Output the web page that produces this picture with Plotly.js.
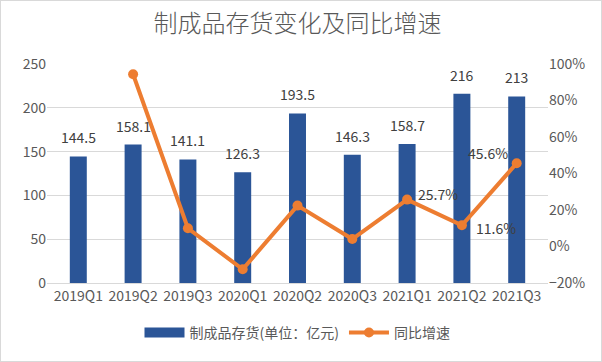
<!DOCTYPE html>
<html><head><meta charset="utf-8">
<script src="https://cdn.plot.ly/plotly-3.0.1.min.js"></script>
<style>
html,body{margin:0;padding:0;background:#fff;}
#wrap{position:relative;width:602px;height:362px;}
#chart{width:602px;height:362px;}
#frame{position:absolute;left:0;top:0;width:600px;height:360px;border:1px solid #d9d9d9;pointer-events:none;}
</style></head>
<body>
<div id="wrap"><div id="chart"></div><div id="frame"></div></div>
<script>
const categories = ['2019Q1','2019Q2','2019Q3','2020Q1','2020Q2','2020Q3','2021Q1','2021Q2','2021Q3'];
const inventory = [144.5, 158.1, 141.1, 126.3, 193.5, 146.3, 158.7, 216, 213];
const inventoryLabels = ['144.5','158.1','141.1','126.3','193.5','146.3','158.7','216','213'];
const growth = [null, 94.4, 10.0, -12.5, 22.4, 4.1, 25.7, 11.6, 45.6];
const growthLabels = ['', '', '', '', '', '', '25.7%', '11.6%', '45.6%'];

const FONT = '"Noto Sans CJK SC", "Liberation Sans", sans-serif';
const BLUE = '#2B5597';
const ORANGE = '#ED7D31';
const GREY = '#595959';
const LABEL = '#404040';

const traces = [
  {
    type: 'bar', x: categories, y: inventory, name: '制成品存货(单位：亿元)',
    marker: {color: BLUE}, showlegend: false, hoverinfo: 'x+y'
  },
  {
    type: 'scatter', mode: 'lines', x: [null], y: [null], name: '制成品存货(单位：亿元)',
    line: {color: BLUE, width: 10}, showlegend: true, hoverinfo: 'skip'
  },
  {
    type: 'scatter', mode: 'lines+markers', x: categories, y: growth, yaxis: 'y2',
    name: '同比增速', line: {color: ORANGE, width: 4}, marker: {color: ORANGE, size: 10},
    cliponaxis: false
  }
];

const annotations = [];
categories.forEach((c, i) => {
  annotations.push({x: c, y: inventory[i], xref: 'x', yref: 'y', text: inventoryLabels[i],
    showarrow: false, yanchor: 'middle', yshift: 19,
    font: {size: 14, color: LABEL, family: FONT}});
});
// placement of the growth labels relative to their points
const growthShift = {6: [9, 6, 'left'], 7: [12, -3, 'left'], 8: [-7, 10, 'right']};
categories.forEach((c, i) => {
  if (!growthLabels[i]) return;
  const s = growthShift[i];
  annotations.push({x: c, y: growth[i], xref: 'x', yref: 'y2', text: growthLabels[i],
    showarrow: false, xanchor: s[2], yanchor: 'middle', xshift: s[0], yshift: s[1],
    font: {size: 14, color: LABEL, family: FONT}});
});

const layout = {
  width: 602, height: 362,
  margin: {l: 47, r: 54, t: 64, b: 79},
  paper_bgcolor: '#fff', plot_bgcolor: '#fff',
  font: {family: FONT, color: GREY, size: 14},
  title: {text: '制成品存货变化及同比增速', x: 0.5, xref: 'paper', y: 0.935, yanchor: 'middle',
          font: {size: 24, color: GREY, family: FONT, weight: 300}},
  bargap: 0.69,
  xaxis: {type: 'category', tickfont: {size: 14, color: GREY}, showgrid: false, zeroline: false,
          showline: true, linecolor: '#d9d9d9', ticks: ''},
  yaxis: {range: [0, 250], dtick: 50, tickfont: {size: 14, color: GREY}, gridcolor: '#d9d9d9',
          zeroline: false, showline: false, ticks: ''},
  yaxis2: {range: [-20, 100], dtick: 20, overlaying: 'y', side: 'right', ticksuffix: '%',
           tickfont: {size: 14, color: GREY}, showgrid: false, zeroline: false, ticks: ''},
  legend: {orientation: 'h', x: 0.5, xanchor: 'center', y: -0.228, yanchor: 'middle',
           font: {size: 14, color: GREY}, itemwidth: 40, traceorder: 'normal'},
  annotations: annotations,
  showlegend: true
};

Plotly.newPlot('chart', traces, layout, {displayModeBar: false, staticPlot: true});
</script>
</body></html>
